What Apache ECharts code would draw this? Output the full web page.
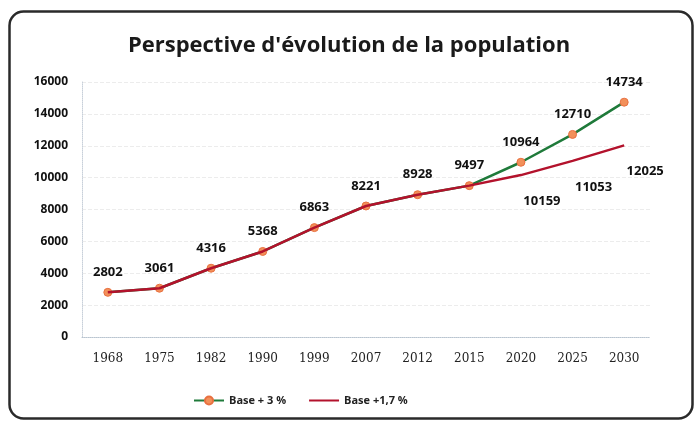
<!DOCTYPE html>
<html>
<head>
<meta charset="utf-8">
<script src="https://cdn.jsdelivr.net/npm/echarts@6/dist/echarts.min.js"></script>
<style>
  html, body { margin: 0; padding: 0; background: #fff; }
  #chart { width: 698px; height: 421px; }
</style>
</head>
<body>
<div id="chart"></div>
<script>
// annees
var years = ["1968", "1975", "1982", "1990", "1999", "2007", "2012", "2015", "2020", "2025", "2030"];
// Base + 3 %
var base3 = [2802, 3061, 4316, 5368, 6863, 8221, 8928, 9497, 10964, 12710, 14734];
// Base +1,7 %
var base17 = [2802, 3061, 4316, 5368, 6863, 8221, 8928, 9497, 10159, 11053, 12025];
// etiquettes affichees en dessous (serie rouge, projections)
var lowLabelFrom = 8;

var myChart = echarts.init(document.getElementById("chart"));
var option = {
  animation: false,
  title: {
    text: "Perspective d'évolution de la population",
    left: "center",
    top: 30,
    textStyle: { fontFamily: "Open Sans", fontSize: 22, fontWeight: "bold", color: "#1a1a1a" }
  },
  graphic: [{
    type: "rect",
    left: 7, top: 9,
    shape: { width: 683, height: 407, r: 14 },
    style: { fill: "none", stroke: "#2a2a2a", lineWidth: 2.5 },
    z: 0
  }],
  grid: { left: 82, right: 48, top: 82, bottom: 84 },
  legend: {
    bottom: 10,
    left: 188,
    itemWidth: 30,
    itemHeight: 10,
    itemGap: 22,
    textStyle: { fontFamily: "Open Sans", fontWeight: "bold", fontSize: 11, color: "#222" },
    data: ["Base + 3 %", "Base +1,7 %"]
  },
  xAxis: {
    type: "category",
    data: years,
    boundaryGap: true,
    axisLine: { lineStyle: { color: "#b8c4d0", type: "dotted" } },
    axisTick: { show: false },
    axisLabel: { margin: 16, fontFamily: "DejaVu Serif", fontSize: 12, color: "#222" }
  },
  yAxis: {
    type: "value",
    min: 0, max: 16000, interval: 2000,
    axisLine: { show: true, lineStyle: { color: "#c8d0da", type: "dotted" } },
    axisTick: { show: false },
    splitLine: { lineStyle: { color: "#ececec", type: "dashed" } },
    axisLabel: {
      margin: 14, fontFamily: "Open Sans", fontWeight: "bold", fontSize: 12, color: "#111",
      formatter: function (v) { return String(v); }
    }
  },
  series: [
    {
      name: "Base + 3 %",
      type: "line",
      data: base3,
      z: 2,
      symbol: "circle",
      symbolSize: 8,
      lineStyle: { color: "#1f7a3a", width: 2.5 },
      itemStyle: { color: "#f2905a", borderColor: "#e87040", borderWidth: 1 },
      label: {
        show: true, position: "top", distance: 9,
        fontFamily: "Open Sans", fontWeight: "bold", fontSize: 13, color: "#111"
      }
    },
    {
      name: "Base +1,7 %",
      type: "line",
      data: base17,
      z: 3,
      symbol: "circle",
      symbolSize: 1,
      lineStyle: { color: "#b3122c", width: 2.5 },
      itemStyle: { color: "rgba(0,0,0,0)", borderWidth: 0 },
      label: {
        show: true, position: "bottom", distance: 19, offset: [21, 0],
        fontFamily: "Open Sans", fontWeight: "bold", fontSize: 13, color: "#111",
        formatter: function (p) { return p.dataIndex >= lowLabelFrom ? String(p.value) : ""; }
      }
    }
  ]
};
myChart.setOption(option);
</script>
</body>
</html>
